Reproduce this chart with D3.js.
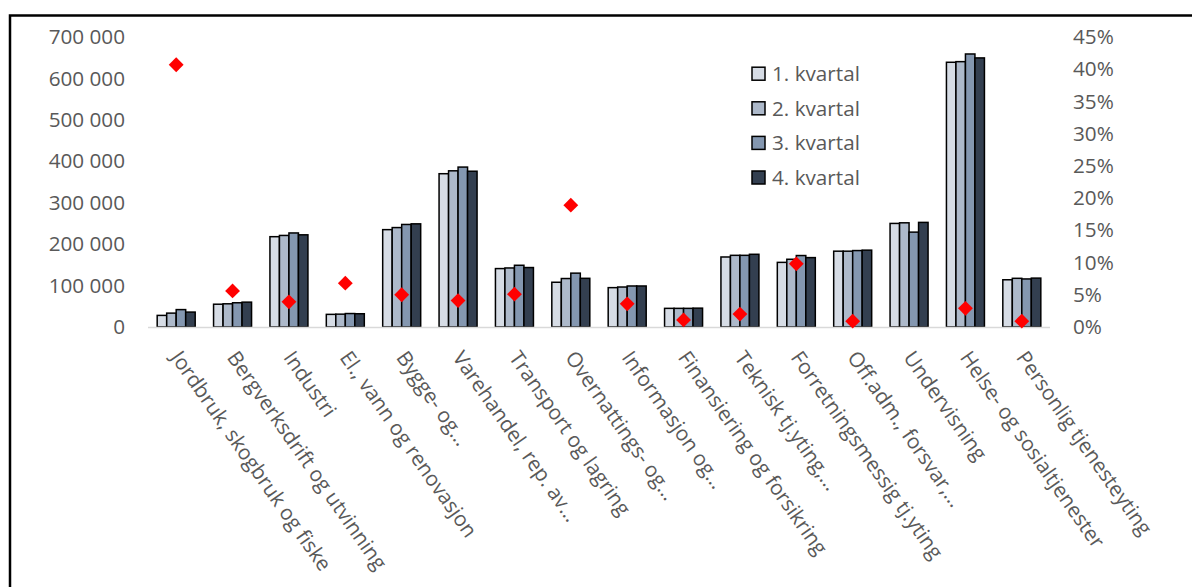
<!DOCTYPE html>
<html>
<head>
<meta charset="utf-8">
<script src="https://cdn.jsdelivr.net/npm/d3@7"></script>
<style>
  html, body { margin: 0; padding: 0; background: #fff; }
  svg { display: block; font-family: "Open Sans", sans-serif; }
</style>
</head>
<body>
<svg id="chart" width="1192" height="587"></svg>
<script>
const categories = [
  "Jordbruk, skogbruk og fiske",
  "Bergverksdrift og utvinning",
  "Industri",
  "El., vann og renovasjon",
  "Bygge- og…",
  "Varehandel, rep. av…",
  "Transport og lagring",
  "Overnattings- og…",
  "Informasjon og…",
  "Finansiering og forsikring",
  "Teknisk tj.yting,…",
  "Forretningsmessig tj.yting",
  "Off.adm., forsvar,…",
  "Undervisning",
  "Helse- og sosialtjenester",
  "Personlig tjenesteyting"
];
const seriesNames = ["1. kvartal", "2. kvartal", "3. kvartal", "4. kvartal"];
const q1 = [28000, 55000, 218000, 30500, 235000, 370000, 141000, 108000, 95000, 45000, 169000, 156000, 183000, 250000, 639000, 114000];
const q2 = [33500, 56000, 221000, 31000, 240000, 377000, 142500, 117000, 96500, 45000, 173000, 163500, 183000, 251500, 640500, 117500];
const q3 = [42000, 58500, 227000, 32500, 247500, 386000, 149000, 130000, 99000, 45000, 173000, 172500, 184500, 229000, 659000, 116000];
const q4 = [36000, 60000, 222500, 32000, 249000, 376000, 143500, 117500, 99000, 45500, 175500, 167500, 185500, 252500, 649500, 118000];
const share = [0.407, 0.056, 0.039, 0.068, 0.050, 0.041, 0.051, 0.189, 0.036, 0.011, 0.020, 0.098, 0.009, null, 0.029, 0.009];
const leftTicks = [0, 100000, 200000, 300000, 400000, 500000, 600000, 700000];
const rightTicks = [0, 0.05, 0.10, 0.15, 0.20, 0.25, 0.30, 0.35, 0.40, 0.45];
const colors = ["#d6dce5", "#adb9ca", "#8497b0", "#333f50"];

const seriesValues = [q1, q2, q3, q4];
const svg = d3.select("#chart");
const textColor = "#595959";
const fs = 20.7;

const plot = { left: 148, right: 1050, top: 37, bottom: 327 };

const x0 = d3.scaleBand().domain(categories).range([plot.left, plot.right])
  .paddingInner(0.326).paddingOuter(0.163);
const x1 = d3.scaleBand().domain(seriesNames).range([0, x0.bandwidth()]).padding(0);
const yL = d3.scaleLinear().domain([0, 700000]).range([plot.bottom, plot.top]);
const yR = d3.scaleLinear().domain([0, 0.45]).range([plot.bottom, plot.top]);

const loc = d3.formatLocale({ decimal: ",", thousands: " ", grouping: [3], currency: ["", " kr"] });
const fmtL = loc.format(",d");
const fmtR = d3.format(".0%");

// frame
svg.append("rect").attr("x", 10).attr("y", 15.5).attr("width", 1300).attr("height", 700)
  .attr("fill", "none").attr("stroke", "#000").attr("stroke-width", 2.5);

// left axis
const axL = d3.axisLeft(yL).tickValues(leftTicks).tickFormat(fmtL).tickSize(0).tickPadding(0);
const gL = svg.append("g").attr("transform", "translate(125,0)").call(axL);
gL.select(".domain").remove();
gL.selectAll("text").attr("fill", textColor).attr("font-size", fs)
  .attr("font-family", "Open Sans, sans-serif").attr("x", 0);

// right axis
const axR = d3.axisRight(yR).tickValues(rightTicks).tickFormat(fmtR).tickSize(0).tickPadding(0);
const gR = svg.append("g").attr("transform", "translate(1073,0)").call(axR);
gR.select(".domain").remove();
gR.selectAll("text").attr("fill", textColor).attr("font-size", fs)
  .attr("font-family", "Open Sans, sans-serif").attr("x", 0);

// bars
const groups = svg.append("g").selectAll("g").data(categories).join("g")
  .attr("transform", d => `translate(${x0(d)},0)`);
groups.selectAll("rect").data((d, i) => seriesNames.map((s, j) => ({ s, j, v: seriesValues[j][i] })))
  .join("rect")
  .attr("x", d => x1(d.s))
  .attr("y", d => yL(d.v))
  .attr("width", x1.bandwidth())
  .attr("height", d => yL(0) - yL(d.v))
  .attr("fill", d => colors[d.j])
  .attr("stroke", "#000")
  .attr("stroke-width", 1.5);

// baseline
svg.append("line").attr("x1", plot.left).attr("x2", plot.right)
  .attr("y1", yL(0) + 0.5).attr("y2", yL(0) + 0.5)
  .attr("stroke", "#d9d9d9").attr("stroke-width", 1.5);

// diamonds
const diamond = d3.symbol().type(d3.symbolSquare).size(110);
svg.append("g").selectAll("path")
  .data(categories.map((c, i) => ({ c, v: share[i] })).filter(d => d.v !== null))
  .join("path")
  .attr("d", diamond)
  .attr("transform", d => `translate(${x0(d.c) + x0.bandwidth() / 2},${yR(d.v)}) rotate(45)`)
  .attr("fill", "#ff0000");

// category labels
svg.append("g").selectAll("text").data(categories).join("text")
  .attr("transform", d => `translate(${x0(d) + x0.bandwidth() / 2 + 6},349) rotate(55)`)
  .attr("dy", "0.72em")
  .attr("text-anchor", "start")
  .attr("font-size", fs)
  .attr("fill", textColor)
  .text(d => d);

// legend
const leg = svg.append("g").selectAll("g").data(seriesNames).join("g")
  .attr("transform", (d, i) => `translate(752,${73.7 + i * 34.6})`);
leg.append("rect").attr("x", 0).attr("y", -6.5).attr("width", 13).attr("height", 13)
  .attr("fill", (d, i) => colors[i]).attr("stroke", "#000").attr("stroke-width", 1.5);
leg.append("text").attr("x", 20).attr("dy", "0.35em").attr("font-size", fs)
  .attr("fill", textColor).text(d => d);
</script>
</body>
</html>
